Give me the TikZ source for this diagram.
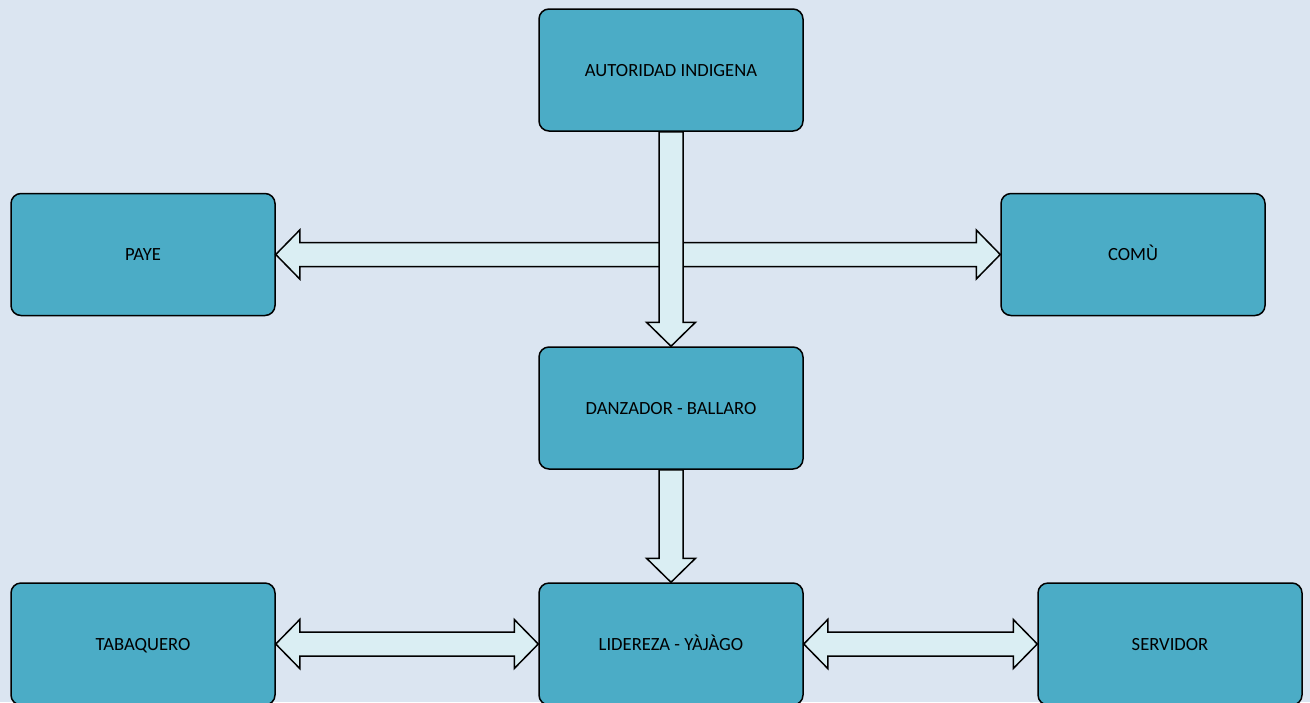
\documentclass[tikz,border=0pt]{standalone}
\usepackage{fontspec}
\setmainfont{Carlito}
\usepackage{tikz}
\usetikzlibrary{calc}

\definecolor{fondo}{HTML}{DBE5F1}
\definecolor{caja}{HTML}{4BACC6}
\definecolor{flecha}{HTML}{DAEEF3}

\begin{document}
\begin{tikzpicture}[join=round]
		\tikzstyle{rol}=[draw, line width=0.75pt, fill=caja, rounded corners=5pt, minimum width=132pt, minimum height=61pt, inner sep=0pt, text height=7pt, text depth=1pt, align=center, font=\fontsize{9.3}{11}\selectfont]
		\tikzstyle{bloque}=[draw, line width=0.75pt, fill=flecha, join=miter]
		
		\fill[fondo] (0,0) rectangle (655pt, -351pt);
		\useasboundingbox (0,0) rectangle (655pt, -351pt);
		
		\node[rol] (aut) at (335.5pt, -35pt) {AUTORIDAD INDIGENA};
		\node[rol] (paye) at (71.5pt, -127.25pt) {PAYE};
		\node[rol] (comu) at (566.5pt, -127.25pt) {COMÙ};
		\node[rol] (danz) at (335.5pt, -204pt) {DANZADOR - BALLARO};
		\node[rol] (tab) at (71.5pt, -322pt) {TABAQUERO};
		\node[rol] (lid) at (335.5pt, -322pt) {LIDEREZA - YÀJÀGO};
		\node[rol] (serv) at (585pt, -322pt) {SERVIDOR};
		
		% paye <-> comu
		\draw[bloque] (paye.east) -- ($(paye.east)+(12pt,12.25pt)$) -- ($(paye.east)+(12pt,6pt)$) -- ($(comu.west)+(-12pt,6pt)$) -- ($(comu.west)+(-12pt,12.25pt)$) -- (comu.west) -- ($(comu.west)+(-12pt,-12.25pt)$) -- ($(comu.west)+(-12pt,-6pt)$) -- ($(paye.east)+(12pt,-6pt)$) -- ($(paye.east)+(12pt,-12.25pt)$) -- cycle;
		
		% aut -> danz
		\draw[bloque] ($(aut.south)+(-6pt,0)$) -- ($(danz.north)+(-6pt,12pt)$) -- ($(danz.north)+(-12.25pt,12pt)$) -- (danz.north) -- ($(danz.north)+(12.25pt,12pt)$) -- ($(danz.north)+(6pt,12pt)$) -- ($(aut.south)+(6pt,0)$) -- cycle;
		
		% danz -> lid
		\draw[bloque] ($(danz.south)+(-6pt,0)$) -- ($(lid.north)+(-6pt,12pt)$) -- ($(lid.north)+(-12.25pt,12pt)$) -- (lid.north) -- ($(lid.north)+(12.25pt,12pt)$) -- ($(lid.north)+(6pt,12pt)$) -- ($(danz.south)+(6pt,0)$) -- cycle;
		
		% tab <-> lid
		\draw[bloque] (tab.east) -- ($(tab.east)+(12pt,12.25pt)$) -- ($(tab.east)+(12pt,6pt)$) -- ($(lid.west)+(-12pt,6pt)$) -- ($(lid.west)+(-12pt,12.25pt)$) -- (lid.west) -- ($(lid.west)+(-12pt,-12.25pt)$) -- ($(lid.west)+(-12pt,-6pt)$) -- ($(tab.east)+(12pt,-6pt)$) -- ($(tab.east)+(12pt,-12.25pt)$) -- cycle;
		
		% lid <-> serv
		\draw[bloque] (lid.east) -- ($(lid.east)+(12pt,12.25pt)$) -- ($(lid.east)+(12pt,6pt)$) -- ($(serv.west)+(-12pt,6pt)$) -- ($(serv.west)+(-12pt,12.25pt)$) -- (serv.west) -- ($(serv.west)+(-12pt,-12.25pt)$) -- ($(serv.west)+(-12pt,-6pt)$) -- ($(lid.east)+(12pt,-6pt)$) -- ($(lid.east)+(12pt,-12.25pt)$) -- cycle;
	\end{tikzpicture}
\end{document}
